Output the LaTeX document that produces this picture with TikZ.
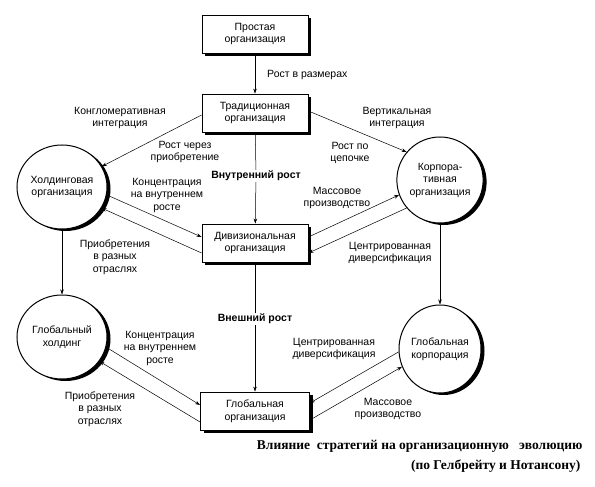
\documentclass[tikz,border=0pt]{standalone}
\usepackage{fontspec}
\setmainfont{Liberation Sans}
\newfontfamily\capfont{Liberation Serif}
\usetikzlibrary{arrows.meta,shadows,shapes.geometric}

\begin{document}
\begin{tikzpicture}[x=1pt,y=-1pt,
  font=\fontsize{10.5}{12.5}\selectfont,
  orgbox/.style={draw,fill=white,line width=0.9pt,minimum width=106pt,minimum height=38pt,align=center,
    drop shadow={shadow xshift=3pt,shadow yshift=-3pt,opacity=1,fill=black}},
  orgcirc/.style={ellipse,draw,fill=white,line width=1pt,inner sep=0pt,align=center,
    drop shadow={shadow xshift=3.5pt,shadow yshift=-2pt,opacity=1,fill=black}},
  lbl/.style={align=center,inner sep=1pt},
  flow/.style={-{Stealth[length=5pt,width=3.5pt]},line width=0.5pt}]
\path[use as bounding box] (0,0) rectangle (595,487);
\node[orgbox] (simple) at (255,34) {Простая\\организация};
\node[orgbox] (trad) at (255,113) {Традиционная\\организация};
\node[orgbox] (div) at (255,243) {Дивизиональная\\организация};
\node[orgbox,minimum width=109pt] (gorg) at (255,411) {Глобальная\\организация};
\node[orgcirc,minimum width=90pt,minimum height=84pt] (hold) at (62,187) {Холдинговая\\организация};
\node[orgcirc,minimum width=86pt,minimum height=86pt] (corp) at (440,180) {Корпора-\\тивная\\организация};
\node[orgcirc,minimum width=90pt,minimum height=84pt] (ghold) at (62,337) {Глобальный\\холдинг};
\node[orgcirc,minimum width=82pt,minimum height=88pt] (gcorp) at (440,349) {Глобальная\\корпорация};
\node[lbl,anchor=west] (lsize) at (266,75) {Рост в размерах};
\node[lbl] (lcong) at (120,118) {Конгломеративная\\интеграция};
\node[lbl] (lbuy) at (185,152) {Рост через\\приобретение};
\node[lbl] (lvert) at (397,118) {Вертикальная\\интеграция};
\node[lbl] (lchain) at (350,153) {Рост по\\цепочке};
\node[lbl] (linner) at (256,176) {\textbf{Внутренний рост}};
\node[lbl] (lconc) at (167,195) {Концентрация\\на внутреннем\\росте};
\node[lbl] (lacq) at (115,257) {Приобретения\\в разных\\отраслях};
\node[lbl] (lmass) at (337,198) {Массовое\\производство};
\node[lbl] (lcent) at (390,253) {Центрированная\\диверсификация};
\node[lbl] (lext) at (255,319) {\textbf{Внешний рост}};
\node[lbl] (gconc) at (160,348) {Концентрация\\на внутреннем\\росте};
\node[lbl] (gacq) at (100,409) {Приобретения\\в разных\\отраслях};
\node[lbl] (gcent) at (334,349) {Центрированная\\диверсификация};
\node[lbl] (gmass) at (388,409) {Массовое\\производство};
\node[anchor=east,font=\capfont\bfseries\fontsize{13.5}{15}\selectfont] (cap1) at (586,446) {Влияние\ \ стратегий на организационную\ \ \ эволюцию};
\node[anchor=east,font=\capfont\bfseries\fontsize{13.5}{15}\selectfont] (cap2) at (584,466) {(по Гелбрейту и Нотансону)};
\draw[flow] (simple) -- (trad);
\draw[flow] ([yshift=-2pt]trad.west) -- (hold);
\draw[flow] ([yshift=2pt]trad.east) -- (corp.140);
\draw[line width=0.5pt] (trad) -- (linner);
\draw[flow] (linner) -- (div);
\draw[flow] (hold.-10) -- ([yshift=6pt]div.west);
\draw[flow] ([yshift=-10pt]div.west) -- (hold.-28);
\draw[flow] ([yshift=6pt]div.east) -- (corp.-160);
\draw[flow] (corp.-140) -- ([yshift=-10pt]div.east);
\draw[flow] (hold) -- (ghold);
\draw[flow] (corp) -- (gcorp);
\draw[line width=0.5pt] (div) -- (lext);
\draw[flow] (lext) -- (gorg);
\draw[flow] (ghold.-13) -- ([yshift=6pt]gorg.west);
\draw[flow] ([yshift=-11pt]gorg.west) -- (ghold.-33);
\draw[flow] (gcorp.-176) -- ([yshift=8pt]gorg.east);
\draw[flow] ([yshift=-9pt]gorg.east) -- (gcorp.-155);
\end{tikzpicture}
\end{document}
